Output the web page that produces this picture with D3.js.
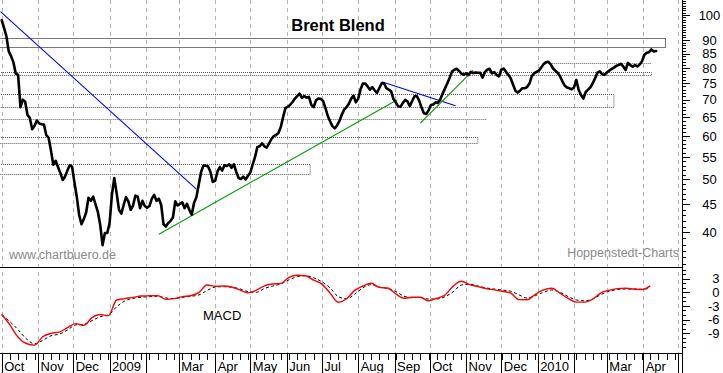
<!DOCTYPE html>
<html><head><meta charset="utf-8">
<script src="https://cdn.jsdelivr.net/npm/d3@7"></script>
<style>
body{margin:0;background:#fff}
svg{display:block;font-family:"Liberation Sans",Arial,sans-serif}
</style>
</head><body>
<svg id="c" width="723" height="373"></svg>
<script>
// ---------- data ----------
const title = "Brent Blend";
const priceStart = "2008-10-01";   // first sample of the closing price
const priceStepDays = 2;           // one reading every two calendar days
const price = [
97.9,94.7,91.5,85.8,84.1,81.9,78.1,77.7,67.8,70.0,
69.4,65.6,64.8,61.8,62.7,64.1,63.3,63.1,63.0,60.3,
59.6,56.5,53.2,54.1,52.7,51.4,49.9,50.6,51.9,53.1,
52.8,49.4,46.5,43.1,41.4,42.3,43.5,46.3,45.7,46.5,
45.0,43.6,41.3,37.9,39.9,39.9,41.6,46.9,50.3,47.2,
44.0,43.3,44.9,46.4,45.6,44.0,44.8,46.7,46.5,44.3,
45.7,44.7,44.4,44.7,46.1,46.85,45.7,46.1,44.9,41.4,
41.0,41.6,42.0,42.6,45.6,44.8,45.1,45.4,44.3,45.1,
44.0,43.1,45.3,46.4,48.9,51.6,53.0,53.0,52.8,51.6,
49.5,49.7,51.7,52.7,51.9,53.1,52.9,53.3,52.5,53.3,
51.6,50.3,50.1,50.6,50.0,50.8,51.5,53.2,55.0,57.3,
57.5,58.2,57.5,57.2,58.2,59.3,60.0,60.3,60.8,62.4,
65.1,67.6,67.9,68.5,69.3,70.3,71.05,71.8,70.5,71.05,
70.6,70.8,68.45,67.85,69.8,70.3,70.25,69.6,67.6,65.4,
63.9,62.6,62.0,62.8,64.0,65.7,67.1,67.8,68.8,70.3,
71.2,69.2,70.3,73.1,74.9,74.9,74.0,73.0,73.75,72.8,
72.0,73.5,75.0,75.0,73.45,73.0,72.55,70.2,69.2,68.1,
67.9,69.0,69.9,69.5,68.1,69.6,71.0,71.05,69.7,67.7,
66.1,65.9,66.9,68.45,68.6,69.2,69.05,70.1,71.8,73.4,
75.0,76.8,78.8,79.4,79.7,79.0,78.1,77.75,78.2,77.7,
78.7,78.3,78.5,78.4,78.4,76.8,78.6,79.4,79.7,78.2,
78.6,77.7,77.2,79.4,79.8,78.7,77.7,76.6,74.6,72.7,
72.1,72.7,73.45,73.45,73.8,74.9,77.3,78.2,78.7,79.1,
80.1,81.3,81.9,82.1,81.3,79.9,79.1,78.4,77.3,75.7,
74.3,73.7,73.45,73.1,73.7,76.05,72.9,71.35,70.3,72.3,
73.0,73.75,75.0,76.65,78.4,78.85,77.9,77.7,78.5,79.1,
79.6,80.1,80.7,81.0,81.4,80.5,79.3,81.7,80.95,80.4,
81.0,80.5,81.15,82.3,84.55,85.3,85.5,86.5,85.75,85.9
];

const macdStart = "2008-10-01";
const macdStepDays = 7;            // weekly readings
const macd = [
-4.83,-7.2,-9.9,-11.3,-11.65,-9.8,-9.05,-8.8,-7.8,-6.9,
-7.3,-5.6,-4.9,-5.15,-1.7,-1.4,-1.13,-0.82,-0.77,-0.73,
-1.57,-1.4,-0.95,-0.75,-0.09,1.61,1.32,1.39,1.17,0.53,
-0.13,0.44,1.43,1.83,1.96,3.29,3.75,3.64,2.67,1.81,
-0.18,-2.2,-1.43,0.42,1.39,1.99,1.08,0.95,-0.35,-1.32,
-1.08,-1.1,-1.88,-1.32,-0.6,1.37,2.43,1.7,1.26,0.82,
0.53,0.22,-0.15,-1.61,-1.63,-0.44,0.53,0.88,-0.2,-1.35,
-2.16,-2.16,-1.48,-0.11,0.46,0.82,0.88,0.72,0.6,1.41
];
const signal = [
-5.12,-6.47,-8.28,-10.26,-11.37,-10.6,-9.6,-9.23,-8.34,-7.2,
-7.06,-6.25,-5.39,-4.99,-3.2,-1.9,-1.35,-1.08,-0.97,-0.86,
-1.26,-1.39,-1.13,-0.88,-0.6,0.38,1.15,1.24,1.13,0.77,
0.15,0.0,0.82,1.37,1.85,2.76,3.42,3.66,3.2,2.32,
0.99,-0.97,-1.41,-0.42,1.02,1.68,1.15,0.84,0.18,-0.86,
-1.19,-1.13,-1.48,-1.48,-0.97,0.11,1.61,1.77,1.39,0.97,
0.71,0.49,0.24,-0.55,-1.26,-0.75,0.0,0.51,0.0,-0.95,
-1.68,-1.88,-1.48,-0.49,0.22,0.62,0.73,0.71,0.68,0.88
];

// support / resistance zones (price band, drawn from chart start to end date)
const zoneLow  = [87.5, 77.6, 68.0, 58.3, 51.1];
const zoneHigh = [90.7, 78.7, 71.6, 59.75, 53.3];
const zoneEnd  = ["2010-04-20","2010-04-08","2010-03-07","2009-11-11","2009-06-21"];
// single horizontal level lines
const levelValue = [64.5, 81.8];
const levelFrom  = ["2008-09-29","2010-01-13"];
const levelTo    = ["2009-11-19","2010-04-08"];
// trend lines
const trendFromDate = ["2008-09-30","2009-02-12","2009-08-21","2009-09-23"];
const trendFromVal  = [101.4, 39.7, 75.5, 63.4];
const trendToDate   = ["2009-03-16","2009-09-03","2009-10-23","2009-11-07"];
const trendToVal    = [48.0, 69.9, 68.2, 79.2];
const trendKind     = ["down","up","down","up"];

const priceTickLabels = [100,90,85,80,75,70,65,60,55,50,45,40];
const macdTickLabels = [3,0,-3,-6,-9];
const monthLabels = ["Oct","Nov","Dec","2009","","Mar","Apr","May","Jun","Jul","Aug","Sep",
                     "Oct","Nov","Dec","2010","","Mar","Apr",""];
const axisStart = "2008-10-01", axisEnd = "2010-05-04";

// ---------- build ----------
const P = d3.utcParse("%Y-%m-%d");
const svg = d3.select("#c");
const W = 682, mainTop = 0, mainBot = 267, macdBot = 353;

const x = d3.scaleUtc().domain([P(axisStart), P(axisEnd)]).range([1.7, 681.9]);
const y = d3.scaleLog().domain([40, 100]).range([232.4, 15]);
const ym = d3.scaleLinear().domain([0, 3]).range([292.3, 278.7]);

const priceData = price.map((v, i) => ({d: d3.utcDay.offset(P(priceStart), i * priceStepDays), v}));
const macdData = macd.map((v, i) => ({d: d3.utcDay.offset(P(macdStart), i * macdStepDays), v}));
const sigData = signal.map((v, i) => ({d: d3.utcDay.offset(P(macdStart), i * macdStepDays), v}));

const defs = svg.append("defs");
defs.append("clipPath").attr("id","cm").append("rect").attr("x",0).attr("y",0).attr("width",W).attr("height",mainBot);
defs.append("clipPath").attr("id","cd").append("rect").attr("x",0).attr("y",mainBot).attr("width",W).attr("height",macdBot-mainBot);

// month grid lines
const months = d3.utcMonth.range(P(axisStart), P(axisEnd));
svg.append("g").selectAll("line").data(months).join("line")
  .attr("x1", d => Math.round(x(d)) + 0.5).attr("x2", d => Math.round(x(d)) + 0.5)
  .attr("y1", 0).attr("y2", macdBot)
  .attr("stroke", "#b4b4b4").attr("stroke-dasharray", "4,4");

// watermark texts
svg.append("text").attr("x", 9).attr("y", 259).attr("fill", "#8a8a8a").attr("font-size", 12.5).text("www.chartbuero.de");
svg.append("text").attr("x", 679).attr("y", 257).attr("fill", "#8a8a8a").attr("font-size", 12.5)
  .attr("text-anchor","end").text("Hoppenstedt-Charts");

// title
svg.append("text").attr("x", 338).attr("y", 31).attr("text-anchor","middle")
  .attr("font-size", 16.5).attr("font-weight","bold").text(title);

const gm = svg.append("g").attr("clip-path","url(#cm)");
// zones
zoneLow.forEach((lo, i) => {
  const x0 = -1, x1 = x(P(zoneEnd[i]));
  const yt = y(zoneHigh[i]), yb = y(lo);
  gm.append("rect").attr("x", x0).attr("y", Math.round(yt)+0.5).attr("width", x1 - x0)
    .attr("height", Math.round(yb) - Math.round(yt))
    .attr("fill","none").attr("stroke", i === 0 ? "#787878" : "#555")
    .attr("stroke-dasharray", i === 0 ? null : "1,1");
});
levelValue.forEach((v, i) => {
  gm.append("line").attr("x1", x(P(levelFrom[i]))).attr("x2", x(P(levelTo[i])))
    .attr("y1", Math.round(y(v))+0.5).attr("y2", Math.round(y(v))+0.5)
    .attr("stroke", "#666").attr("stroke-dasharray","1,1");
});
// trend lines
trendFromDate.forEach((d, i) => {
  gm.append("line")
    .attr("x1", x(P(d))).attr("y1", y(trendFromVal[i]))
    .attr("x2", x(P(trendToDate[i]))).attr("y2", y(trendToVal[i]))
    .attr("stroke", trendKind[i] === "down" ? "#0000ff" : "#00a000").attr("stroke-width", 1.1);
});
// price line
gm.append("path").datum(priceData)
  .attr("d", d3.line().x(d => x(d.d)).y(d => y(d.v)))
  .attr("fill","none").attr("stroke","#000").attr("stroke-width",2.6)
  .attr("stroke-linejoin","round").attr("stroke-linecap","round");

// MACD panel
const gd = svg.append("g").attr("clip-path","url(#cd)");
const ml = d3.line().x(d => x(d.d)).y(d => ym(d.v)).curve(d3.curveMonotoneX);
gd.append("path").datum(sigData).attr("d", ml).attr("fill","none")
  .attr("stroke","#000").attr("stroke-width",1).attr("stroke-dasharray","3,2.5");
gd.append("path").datum(macdData).attr("d", ml).attr("fill","none")
  .attr("stroke","#ff0000").attr("stroke-width",1.4);
svg.append("text").attr("x", 203).attr("y", 320).attr("font-size", 13).text("MACD");

// panel frame lines
svg.append("line").attr("x1",0).attr("x2",W).attr("y1",mainBot+0.5).attr("y2",mainBot+0.5).attr("stroke","#000");
svg.append("line").attr("x1",0).attr("x2",W).attr("y1",macdBot+0.5).attr("y2",macdBot+0.5).attr("stroke","#000");
svg.append("line").attr("x1",W+0.5).attr("x2",W+0.5).attr("y1",0).attr("y2",373).attr("stroke","#000");

function styleAxis(g){ g.select(".domain").remove(); g.selectAll("line").attr("stroke","#000").attr("shape-rendering","crispEdges"); }

// right price axis
svg.append("g").attr("transform",`translate(${W},0)`)
  .call(d3.axisRight(y).tickValues(d3.range(35,107)).tickSize(4).tickFormat("")).call(styleAxis);
svg.append("g").attr("transform",`translate(${W},0)`)
  .call(d3.axisRight(y).tickValues(priceTickLabels).tickSize(8).tickFormat("")).call(styleAxis);
svg.append("g").selectAll("text").data(priceTickLabels).join("text")
  .attr("x", 709.5).attr("y", d => y(d)).attr("dy","0.36em").attr("text-anchor","middle")
  .attr("font-size", 13).text(d => d);

// right macd axis
svg.append("g").attr("transform",`translate(${W},0)`)
  .call(d3.axisRight(ym).tickValues(d3.range(-12,6)).tickSize(4).tickFormat("")).call(styleAxis);
svg.append("g").attr("transform",`translate(${W},0)`)
  .call(d3.axisRight(ym).tickValues(macdTickLabels).tickSize(8).tickFormat("")).call(styleAxis);
svg.append("g").selectAll("text").data(macdTickLabels).join("text")
  .attr("x", 719.5).attr("y", d => ym(d)).attr("dy","0.36em").attr("text-anchor","end")
  .attr("font-size", 13).text(d => d);

// bottom time axis
const weeks = d3.utcWednesday.range(P(axisStart), P(axisEnd));
svg.append("g").attr("transform",`translate(0,${macdBot})`)
  .call(d3.axisBottom(x).tickValues(weeks).tickSize(7).tickFormat("")).call(styleAxis);
svg.append("g").attr("transform",`translate(0,${macdBot})`)
  .call(d3.axisBottom(x).tickValues(months).tickSize(20).tickFormat("")).call(styleAxis);
svg.append("g").selectAll("text").data(months).join("text")
  .attr("x", d => x(d) + 2.5).attr("y", 371).attr("font-size", 13)
  .text((d, i) => monthLabels[i]);
</script>
</body></html>
